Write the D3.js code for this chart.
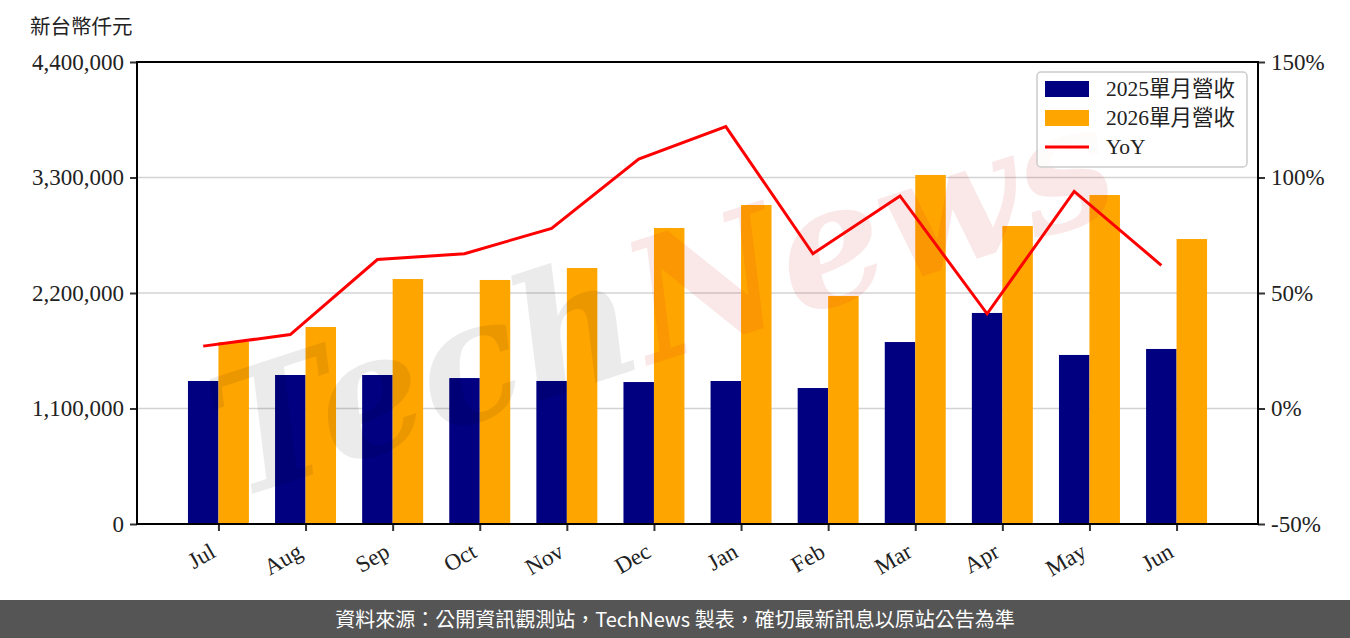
<!DOCTYPE html>
<html lang="zh-Hant">
<head>
<meta charset="UTF-8">
<title>單月營收</title>
<script src="https://d3js.org/d3.v7.min.js"></script>
<style>
  body { margin: 0; background: #fff; }
  svg text { font-family: "Liberation Serif", "Noto Sans CJK TC", serif; }
</style>
</head>
<body>
<div id="chart"></div>
<script>
// data
const months = ["Jul", "Aug", "Sep", "Oct", "Nov", "Dec", "Jan", "Feb", "Mar", "Apr", "May", "Jun"];
const rev2025 = [1362000, 1419000, 1419000, 1390000, 1362000, 1352000, 1362000, 1295000, 1733000, 2010000, 1610000, 1667000];
const rev2026 = [1733000, 1876000, 2333000, 2324000, 2438000, 2819000, 3038000, 2171000, 3324000, 2838000, 3133000, 2714000];
const yoy = [27, 32, 64.5, 67, 78, 108, 122, 67, 92, 41, 94, 62];
const leftTicks = [0, 1100000, 2200000, 3300000, 4400000];
const rightTicks = [-50, 0, 50, 100, 150];
const seriesNames = ["2025單月營收", "2026單月營收", "YoY"];

const W = 1350, H = 638;
const plot = { left: 137, right: 1258, top: 62, bottom: 524 };
const barW = 0.35;

const svg = d3.select("#chart").append("svg")
  .attr("width", W).attr("height", H);

const x = d3.scaleLinear().domain([-0.935, 11.935]).range([plot.left, plot.right]);
const y = d3.scaleLinear().domain([0, 4400000]).range([plot.bottom, plot.top]);
const y2 = d3.scaleLinear().domain([-50, 150]).range([plot.bottom, plot.top]);

// grid lines
svg.append("g").selectAll("line").data(leftTicks.slice(1, -1)).join("line")
  .attr("x1", plot.left).attr("x2", plot.right)
  .attr("y1", d => y(d)).attr("y2", d => y(d))
  .attr("stroke", "#d3d3d3").attr("stroke-width", 1.5);

// bars
svg.append("g").selectAll("rect").data(rev2025).join("rect")
  .attr("x", (d, i) => x(i - barW))
  .attr("y", d => y(d))
  .attr("width", x(barW) - x(0))
  .attr("height", d => plot.bottom - y(d))
  .attr("fill", "#000080");

svg.append("g").selectAll("rect").data(rev2026).join("rect")
  .attr("x", (d, i) => x(i))
  .attr("y", d => y(d))
  .attr("width", x(barW) - x(0))
  .attr("height", d => plot.bottom - y(d))
  .attr("fill", "#ffa500");

// yoy line
const line = d3.line()
  .x((d, i) => x(i - barW / 2))
  .y(d => y2(d));
svg.append("path").datum(yoy)
  .attr("d", line)
  .attr("fill", "none")
  .attr("stroke", "#ff0000")
  .attr("stroke-width", 3);

// watermark
const wm = svg.append("text")
  .attr("transform", "translate(680,355) rotate(-18)")
  .attr("text-anchor", "middle")
  .style("font-family", "'DejaVu Serif', serif")
  .style("font-style", "italic")
  .style("font-weight", "bold")
  .style("font-size", "168px");
wm.append("tspan").text("Tech").attr("fill", "#000").attr("fill-opacity", 0.08);
wm.append("tspan").text("News").attr("fill", "#d02020").attr("fill-opacity", 0.1);

// axes
const leftAxis = svg.append("g")
  .attr("transform", `translate(${plot.left},0)`)
  .call(d3.axisLeft(y).tickValues(leftTicks).tickFormat(d3.format(",")).tickSize(7).tickPadding(6));
const rightAxis = svg.append("g")
  .attr("transform", `translate(${plot.right},0)`)
  .call(d3.axisRight(y2).tickValues(rightTicks).tickFormat(d => d + "%").tickSize(7).tickPadding(6));
const bottomAxis = svg.append("g")
  .attr("transform", `translate(0,${plot.bottom})`)
  .call(d3.axisBottom(x).tickValues(d3.range(months.length)).tickFormat(i => months[i]).tickSize(7));

[leftAxis, rightAxis, bottomAxis].forEach(g => {
  g.select(".domain").remove();
  g.selectAll(".tick line").attr("stroke", "#333").attr("stroke-width", 2);
  g.selectAll(".tick text").attr("fill", "#222").style("font-size", "23px")
    .style("font-family", "'Liberation Serif', serif");
});

bottomAxis.selectAll(".tick text")
  .attr("text-anchor", "end")
  .attr("dy", 0)
  .attr("y", 0).attr("x", 0)
  .attr("transform", "translate(-2,32) rotate(-30)");

// frame
svg.append("rect")
  .attr("x", plot.left).attr("y", plot.top)
  .attr("width", plot.right - plot.left).attr("height", plot.bottom - plot.top)
  .attr("fill", "none").attr("stroke", "#000").attr("stroke-width", 2);

// unit label
svg.append("text")
  .attr("x", 30).attr("y", 34)
  .style("font-family", "'Noto Sans CJK TC', sans-serif")
  .style("font-size", "20.5px")
  .attr("fill", "#222")
  .text("新台幣仟元");

// legend
const lg = svg.append("g").attr("transform", "translate(1037,72)");
lg.append("rect").attr("width", 210).attr("height", 95).attr("rx", 4)
  .attr("fill", "#fff").attr("fill-opacity", 0.8)
  .attr("stroke", "#ccc").attr("stroke-width", 1.5);
const colors = ["#000080", "#ffa500", "#ff0000"];
seriesNames.forEach((name, i) => {
  const row = lg.append("g").attr("transform", `translate(0,${17 + i * 29})`);
  if (i < 2) {
    row.append("rect").attr("x", 8).attr("y", -8).attr("width", 44).attr("height", 16).attr("fill", colors[i]);
  } else {
    row.append("line").attr("x1", 8).attr("x2", 52).attr("y1", 0).attr("y2", 0)
      .attr("stroke", colors[i]).attr("stroke-width", 3);
  }
  row.append("text").attr("x", 69).attr("y", 7)
    .style("font-size", "21.5px").attr("fill", "#222")
    .style("font-family", "'Liberation Serif', 'Noto Sans CJK TC', serif")
    .text(name);
});

// footer
svg.append("rect").attr("x", 0).attr("y", 600).attr("width", W).attr("height", 38).attr("fill", "#555");
svg.append("text")
  .attr("x", W / 2).attr("y", 627)
  .attr("text-anchor", "middle")
  .attr("fill", "#fff")
  .style("font-family", "'Noto Sans CJK TC', sans-serif")
  .style("font-size", "20px")
  .text("資料來源：公開資訊觀測站，TechNews 製表，確切最新訊息以原站公告為準");
</script>
</body>
</html>
